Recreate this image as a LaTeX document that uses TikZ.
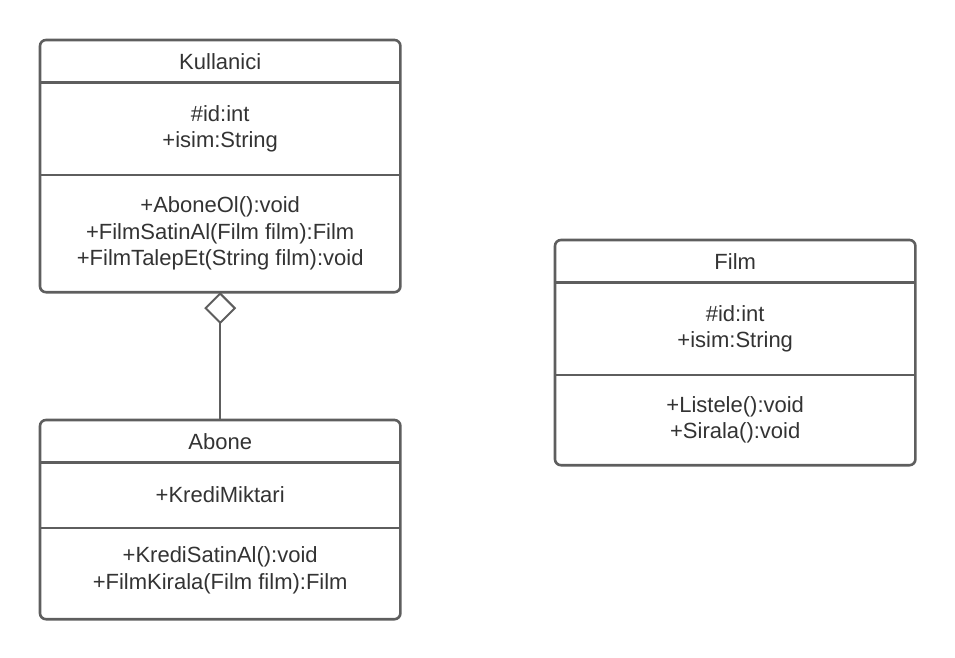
\documentclass[tikz,border=0pt]{standalone}
\usepackage{fontspec}
\setmainfont{Liberation Sans}
\usetikzlibrary{positioning,arrows.meta}
\definecolor{linegray}{HTML}{5E5E5E}
\definecolor{textgray}{HTML}{333333}

\tikzset{
  part/.style={minimum width=360pt, minimum height=#1, inner sep=0pt, align=center,
    text=textgray, font=\fontsize{22}{26.5}\selectfont},
  frame/.style={draw=linegray, line width=2.6pt, rounded corners=6pt},
  divider/.style={draw=linegray, line width=2.6pt},
  aggregation/.style={draw=linegray, line width=2pt,
    arrows={Diamond[open,length=32pt,width=32pt]-}}
}

\begin{document}
\begin{tikzpicture}[x=1pt,y=-1pt]
\useasboundingbox (0,0) rectangle (955,658);

% Kullanici
\node[part=42pt, anchor=north west] (kulhead) at (40,40) {Kullanici};
\node[part=92pt, below=0pt of kulhead] (kulattr) {\#id:int\\+isim:String};
\node[part=117pt, below=0pt of kulattr] (kulops) {+AboneOl():void\\+FilmSatinAl(Film film):Film\\+FilmTalepEt(String film):void};

% Abone
\node[part=42pt, anchor=north west] (abohead) at (40,420) {Abone};
\node[part=65pt, below=0pt of abohead] (aboattr) {+KrediMiktari};
\node[part=91pt, below=0pt of aboattr, yshift=3pt] (aboops) {+KrediSatinAl():void\\+FilmKirala(Film film):Film};

% Film
\node[part=42pt, anchor=north west] (filhead) at (555,240) {Film};
\node[part=92pt, below=0pt of filhead] (filattr) {\#id:int\\+isim:String};
\node[part=90pt, below=0pt of filattr] (filops) {+Listele():void\\+Sirala():void};

\draw[frame] (kulhead.north west) rectangle (kulops.south east);
\draw[divider] (kulattr.north west) -- (kulattr.north east);
\draw[divider] (kulops.north west) -- (kulops.north east);

\draw[frame] (abohead.north west) rectangle ([yshift=-3pt]aboops.south east);
\draw[divider] (aboattr.north west) -- (aboattr.north east);
\draw[divider] (aboattr.south west) -- (aboattr.south east);

\draw[frame] (filhead.north west) rectangle (filops.south east);
\draw[divider] (filattr.north west) -- (filattr.north east);
\draw[divider] (filops.north west) -- (filops.north east);

\draw[aggregation] (kulops.south) -- (abohead.north);
\end{tikzpicture}
\end{document}
